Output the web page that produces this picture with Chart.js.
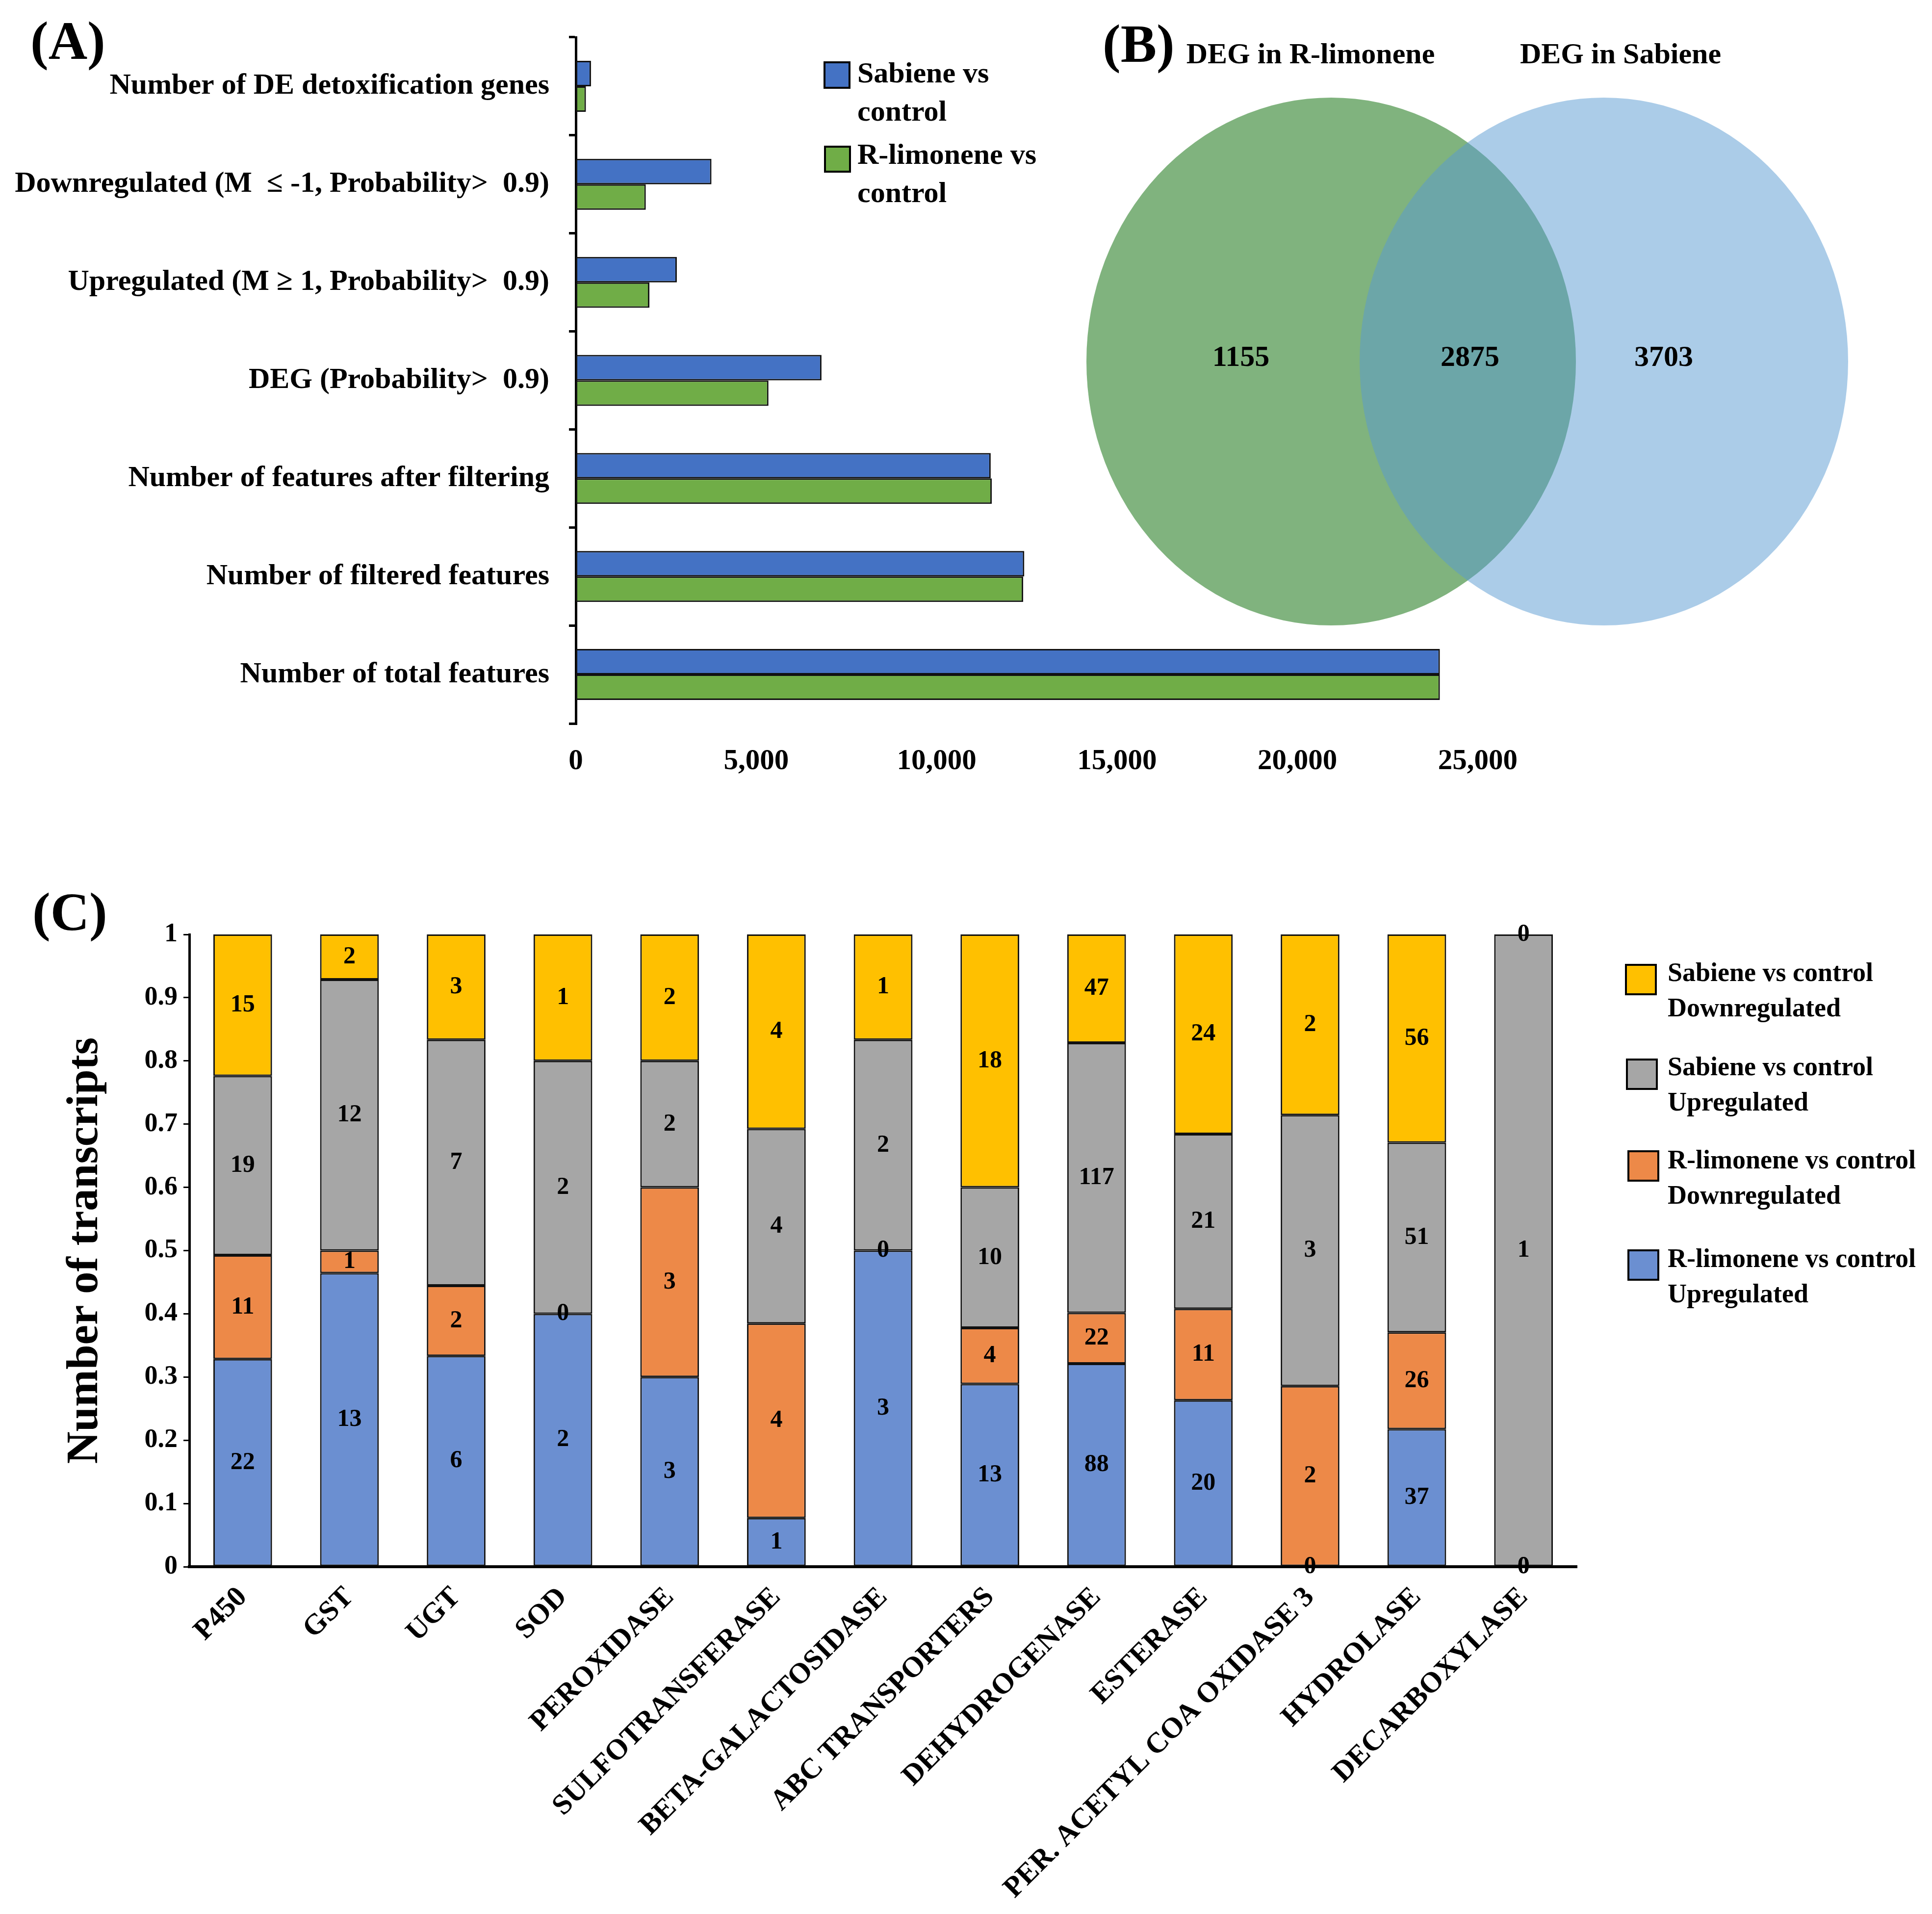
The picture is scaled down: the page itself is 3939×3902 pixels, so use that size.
<!DOCTYPE html>
<html>
<head>
<meta charset="utf-8">
<script src="https://cdn.jsdelivr.net/npm/chart.js@4.4.0/dist/chart.umd.min.js"></script>
<style>
html, body { margin: 0; padding: 0; background: #fff; }
body { width: 3939px; height: 3902px; position: relative; overflow: hidden;
       font-family: "Liberation Serif", "Times New Roman", serif; font-weight: bold; color: #000; }
.box { position: absolute; }
.tag { position: absolute; font-size: 110px; line-height: 110px; }
.leg { position: absolute; white-space: nowrap; }
.sw { position: absolute; border: 4px solid #000; box-sizing: border-box; }
</style>
</head>
<body>

<div class="tag" style="left:62px; top:28px;">(A)</div>
<div class="tag" style="left:2248px; top:34px;">(B)</div>
<div class="tag" style="left:66px; top:1804px;">(C)</div>

<div class="box" style="left:0; top:0; width:3136px; height:1620px;"><canvas id="chartA" width="3136" height="1620"></canvas></div>
<div class="box" style="left:2150px; top:0; width:1789px; height:1330px;"><canvas id="chartB" width="1789" height="1330"></canvas></div>
<div class="box" style="left:0; top:1700px; width:3230px; height:2202px;"><canvas id="chartC" width="3230" height="2202"></canvas></div>

<!-- legend (A) -->
<div class="sw" style="left:1679px; top:125px; width:55px; height:56px; background:#4472C4;"></div>
<div class="leg" style="left:1748px; top:109px; font-size:60px; line-height:78px;">Sabiene vs<br>control</div>
<div class="sw" style="left:1680px; top:297px; width:55px; height:55px; background:#70AD47;"></div>
<div class="leg" style="left:1748px; top:275px; font-size:60px; line-height:78px;">R-limonene vs<br>control</div>

<!-- legend (C) -->
<div class="sw" style="left:3313px; top:1965px; width:65px; height:64px; background:#FFC000;"></div>
<div class="leg" style="left:3400px; top:1946px; font-size:54px; line-height:72px;">Sabiene vs control<br>Downregulated</div>
<div class="sw" style="left:3315px; top:2158px; width:65px; height:64px; background:#A6A6A6;"></div>
<div class="leg" style="left:3400px; top:2138px; font-size:54px; line-height:72px;">Sabiene vs control<br>Upregulated</div>
<div class="sw" style="left:3318px; top:2345px; width:65px; height:64px; background:#ED8948;"></div>
<div class="leg" style="left:3400px; top:2328px; font-size:54px; line-height:72px;">R-limonene vs control<br>Downregulated</div>
<div class="sw" style="left:3318px; top:2547px; width:65px; height:64px; background:#6B8FD1;"></div>
<div class="leg" style="left:3400px; top:2529px; font-size:54px; line-height:72px;">R-limonene vs control<br>Upregulated</div>

<script>
// --- (A) summary of features ---
const summaryLabels = [
  'Number of DE detoxification genes',
  'Downregulated (M  \u2264 -1, Probability>  0.9)',
  'Upregulated (M \u2265 1, Probability>  0.9)',
  'DEG (Probability>  0.9)',
  'Number of features after filtering',
  'Number of filtered features',
  'Number of total features'
];
const sabieneCounts  = [420, 3760, 2800, 6810, 11500, 12430, 23950];
const limoneneCounts = [280, 1940, 2040, 5340, 11530, 12400, 23950];
const summaryTicks = [0, 5000, 10000, 15000, 20000, 25000];

// --- (B) venn ---
const vennTitles = ['DEG in R-limonene', 'DEG in Sabiene'];
const vennCounts = [1155, 2875, 3703];   // R-limonene only, both, Sabiene only

// --- (C) detoxification transcripts ---
const enzymes = ['P450', 'GST', 'UGT', 'SOD', 'PEROXIDASE', 'SULFOTRANSFERASE', 'BETA-GALACTOSIDASE',
  'ABC TRANSPORTERS', 'DEHYDROGENASE', 'ESTERASE', 'PER. ACETYL COA OXIDASE 3', 'HYDROLASE', 'DECARBOXYLASE'];
const limUp   = [22, 13, 6, 2, 3, 1, 3, 13, 88, 20, 0, 37, 0];
const limDown = [11, 1, 2, 0, 3, 4, 0, 4, 22, 11, 2, 26, 0];
const sabUp   = [19, 12, 7, 2, 2, 4, 2, 10, 117, 21, 3, 51, 1];
const sabDown = [15, 2, 3, 1, 2, 4, 1, 18, 47, 24, 2, 56, 0];
const shareTicks = [0, 0.1, 0.2, 0.3, 0.4, 0.5, 0.6, 0.7, 0.8, 0.9, 1];

const SERIF = "'Liberation Serif', 'Times New Roman', serif";
Chart.defaults.font.family = SERIF;
Chart.defaults.font.weight = 'bold';
Chart.defaults.color = '#000';
Chart.defaults.animation = false;
Chart.defaults.devicePixelRatio = 1;
Chart.defaults.plugins.legend.display = false;
Chart.defaults.plugins.tooltip.enabled = false;

new Chart(document.getElementById('chartA'), {
  type: 'bar',
  data: {
    labels: summaryLabels,
    datasets: [
      { label: 'Sabiene vs control', data: sabieneCounts, backgroundColor: '#4472C4', borderColor: '#111', borderWidth: 3, borderSkipped: false },
      { label: 'R-limonene vs control', data: limoneneCounts, backgroundColor: '#70AD47', borderColor: '#111', borderWidth: 3, borderSkipped: false }
    ]
  },
  options: {
    indexAxis: 'y', responsive: false, maintainAspectRatio: false,
    categoryPercentage: 0.52, barPercentage: 1,
    layout: { padding: { top: 69, right: 100, left: 0, bottom: 0 } },
    scales: {
      x: {
        min: 0, max: 25000,
        afterBuildTicks: s => { s.ticks = summaryTicks.map(v => ({ value: v })); },
        grid: { display: false, drawTicks: false },
        border: { display: false },
        ticks: { font: { size: 59 }, padding: 42, callback: v => Number(v).toLocaleString('en-US') },
        afterFit: s => { s.height = 145; }
      },
      y: {
        grid: { drawOnChartArea: false, color: '#000', lineWidth: 5, tickLength: 14 },
        border: { color: '#000', width: 5 },
        ticks: { font: { size: 60 }, padding: 40 },
        afterFit: s => { s.width = 1174; }
      }
    }
  }
});

// ellipses drawn through the chart's linear scales
const vennPlugin = {
  id: 'venn',
  afterDraw(chart, args, opts) {
    const { ctx, scales: { x, y } } = chart;
    ctx.save();
    opts.ellipses.forEach(e => {
      const cx = x.getPixelForValue(e.cx), cy = y.getPixelForValue(e.cy);
      const rx = Math.abs(x.getPixelForValue(e.cx + e.rx) - cx);
      const ry = Math.abs(y.getPixelForValue(e.cy + e.ry) - cy);
      ctx.beginPath();
      ctx.ellipse(cx, cy, rx, ry, 0, 0, Math.PI * 2);
      ctx.fillStyle = e.color;
      ctx.fill();
    });
    ctx.fillStyle = '#000';
    ctx.textAlign = 'center';
    ctx.textBaseline = 'middle';
    ctx.font = 'bold 60px ' + SERIF;
    vennTitles.forEach((t, i) => ctx.fillText(t, x.getPixelForValue(opts.titleX[i]), y.getPixelForValue(opts.titleY)));
    vennCounts.forEach((c, i) => ctx.fillText(String(c), x.getPixelForValue(opts.countX[i]), y.getPixelForValue(opts.countY)));
    ctx.restore();
  }
};

new Chart(document.getElementById('chartB'), {
  type: 'scatter',
  data: { datasets: [] },
  plugins: [vennPlugin],
  options: {
    responsive: false, maintainAspectRatio: false,
    layout: { padding: 0 },
    scales: {
      x: { type: 'linear', min: 0, max: 1789, display: false },
      y: { type: 'linear', min: 0, max: 1330, reverse: true, display: false }
    },
    plugins: {
      venn: {
        ellipses: [
          { cx: 564, cy: 737, rx: 499, ry: 538, color: '#80B37E' },
          { cx: 1120, cy: 737, rx: 498, ry: 538, color: 'rgba(87,153,209,0.5)' }
        ],
        titleX: [522, 1154], titleY: 113,
        countX: [380, 847, 1242], countY: 730
      }
    }
  }
});

const totals = enzymes.map((_, i) => limUp[i] + limDown[i] + sabUp[i] + sabDown[i]);
const share = arr => arr.map((v, i) => v / totals[i]);

const countLabels = {
  id: 'countLabels',
  afterDatasetsDraw(chart) {
    const ctx = chart.ctx;
    ctx.save();
    ctx.font = 'bold 50px ' + SERIF;
    ctx.fillStyle = '#000';
    ctx.textAlign = 'center';
    ctx.textBaseline = 'middle';
    chart.data.datasets.forEach((ds, i) => {
      chart.getDatasetMeta(i).data.forEach((bar, j) => {
        ctx.fillText(String(ds.counts[j]), bar.x, (bar.y + bar.base) / 2);
      });
    });
    ctx.restore();
  }
};

const stackDs = (label, counts, color) => ({
  label, counts, data: share(counts), backgroundColor: color,
  borderColor: '#111', borderWidth: 3, borderSkipped: false
});

new Chart(document.getElementById('chartC'), {
  type: 'bar',
  data: {
    labels: enzymes,
    datasets: [
      stackDs('R-limonene vs control Upregulated', limUp, '#6B8FD1'),
      stackDs('R-limonene vs control Downregulated', limDown, '#ED8948'),
      stackDs('Sabiene vs control Upregulated', sabUp, '#A6A6A6'),
      stackDs('Sabiene vs control Downregulated', sabDown, '#FFC000')
    ]
  },
  plugins: [countLabels],
  options: {
    responsive: false, maintainAspectRatio: false,
    categoryPercentage: 0.55, barPercentage: 1,
    layout: { padding: { top: 205, right: 15, left: 0, bottom: 0 } },
    scales: {
      x: {
        stacked: true,
        grid: { display: false, drawTicks: false },
        border: { color: '#000', width: 6 },
        ticks: { font: { size: 59 }, minRotation: 45, maxRotation: 45, autoSkip: false, padding: 28 },
        afterFit: s => { s.height = 708; }
      },
      y: {
        stacked: true, min: 0, max: 1,
        afterBuildTicks: s => { s.ticks = shareTicks.map(v => ({ value: v })); },
        grid: { drawOnChartArea: false, color: '#000', lineWidth: 3, tickLength: 12 },
        border: { color: '#000', width: 5 },
        ticks: { font: { size: 54 }, padding: 12, callback: v => String(v) },
        title: { display: true, text: 'Number of transcripts', font: { size: 91 }, padding: { top: 120, bottom: 0 } },
        afterFit: s => { s.width = 386; }
      }
    }
  }
});
</script>
</body>
</html>
